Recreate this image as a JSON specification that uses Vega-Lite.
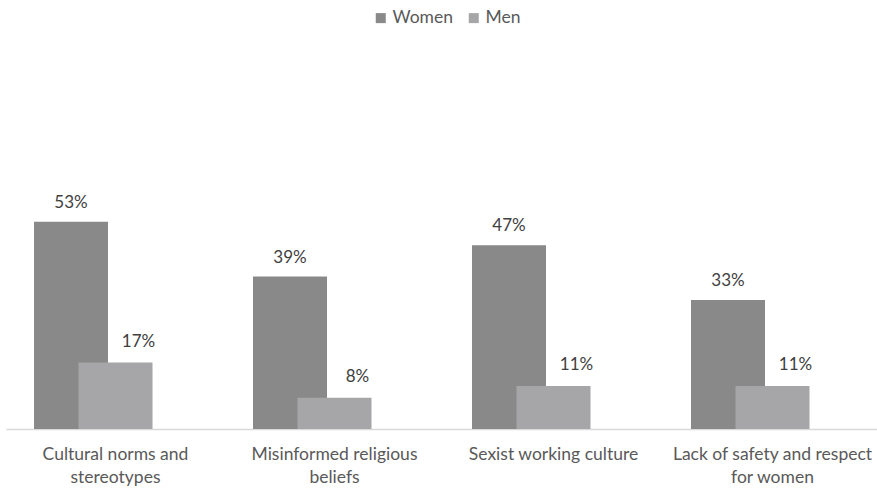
{
  "$schema": "https://vega.github.io/schema/vega-lite/v6.json",
  "width": 871,
  "height": 391,
  "autosize": "none",
  "padding": {"left": 6, "top": 38, "right": 0, "bottom": 61},
  "background": "white",
  "config": {"view": {"stroke": null}, "font": "Lato"},
  "data": {
    "values": [
      {"category": "Cultural norms and stereotypes", "gender": "Women", "value": 0.53},
      {"category": "Cultural norms and stereotypes", "gender": "Men", "value": 0.17},
      {"category": "Misinformed religious beliefs", "gender": "Women", "value": 0.39},
      {"category": "Misinformed religious beliefs", "gender": "Men", "value": 0.08},
      {"category": "Sexist working culture", "gender": "Women", "value": 0.47},
      {"category": "Sexist working culture", "gender": "Men", "value": 0.11},
      {"category": "Lack of safety and respect for women", "gender": "Women", "value": 0.33},
      {"category": "Lack of safety and respect for women", "gender": "Men", "value": 0.11}
    ]
  },
  "encoding": {
    "x": {
      "field": "category",
      "type": "nominal",
      "sort": null,
      "scale": {"range": [0, 876], "paddingInner": 0, "paddingOuter": 0},
      "axis": {
        "title": null,
        "labelAngle": 0,
        "ticks": false,
        "domainColor": "#d9d9d9",
        "domainWidth": 1.5,
        "labelFontSize": 17.5,
        "labelColor": "#595959",
        "labelPadding": 16,
        "labelBaseline": "top",
        "labelLineHeight": 23,
        "labelLimit": 260,
        "labelOverlap": false,
        "labelExpr": "datum.value == 'Cultural norms and stereotypes' ? ['Cultural norms and', 'stereotypes'] : datum.value == 'Misinformed religious beliefs' ? ['Misinformed religious', 'beliefs'] : datum.value == 'Lack of safety and respect for women' ? ['Lack of safety and respect', 'for women'] : datum.value"
      }
    },
    "y": {
      "field": "value",
      "type": "quantitative",
      "scale": {"domain": [0, 1]},
      "axis": null
    }
  },
  "layer": [
    {
      "transform": [{"filter": "datum.gender == 'Women'"}],
      "mark": {"type": "bar", "width": 74, "xOffset": -44.5},
      "encoding": {
        "color": {
          "field": "gender",
          "type": "nominal",
          "scale": {"domain": ["Women", "Men"], "range": ["#898989", "#a6a6a8"]},
          "legend": {
            "title": null,
            "orient": "none",
            "direction": "horizontal",
            "legendX": 366,
            "legendY": -29,
            "symbolType": "square",
            "symbolSize": 100,
            "symbolStrokeWidth": 0,
            "labelFontSize": 17.5,
            "labelColor": "#595959",
            "labelOffset": 3,
            "columnPadding": 12
          }
        }
      }
    },
    {
      "transform": [{"filter": "datum.gender == 'Men'"}],
      "mark": {"type": "bar", "width": 74, "xOffset": 0},
      "encoding": {
        "color": {"field": "gender", "type": "nominal"}
      }
    },
    {
      "transform": [{"filter": "datum.gender == 'Women'"}],
      "mark": {"type": "text", "xOffset": -44.5, "dy": -14, "baseline": "alphabetic", "fontSize": 17, "color": "#404040"},
      "encoding": {
        "text": {"field": "value", "type": "quantitative", "format": ".0%"}
      }
    },
    {
      "transform": [{"filter": "datum.gender == 'Men'"}],
      "mark": {"type": "text", "xOffset": 23, "dy": -16, "baseline": "alphabetic", "fontSize": 17, "color": "#404040"},
      "encoding": {
        "text": {"field": "value", "type": "quantitative", "format": ".0%"}
      }
    }
  ]
}
